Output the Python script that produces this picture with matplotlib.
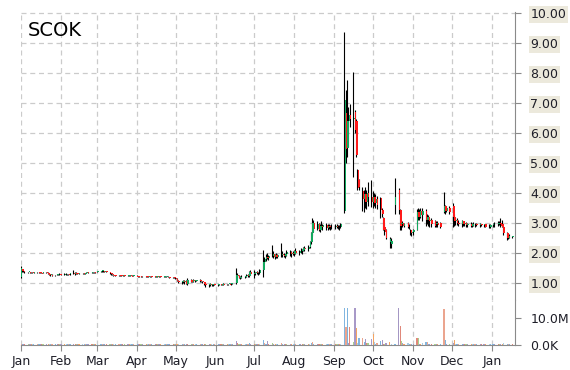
import matplotlib
matplotlib.use("Agg")
import matplotlib.pyplot as plt
import matplotlib.dates as mdates
import numpy as np
import pandas as pd

nan = float("nan")

ticker = "SCOK"
start_date = "2019-01-01"
end_date = "2020-01-17"

month_labels = ["Jan", "Feb", "Mar", "Apr", "May", "Jun", "Jul", "Aug",
                "Sep", "Oct", "Nov", "Dec", "Jan"]
price_ticks = [1, 2, 3, 4, 5, 6, 7, 8, 9, 10]
volume_ticks = [0, 10]
volume_tick_labels = ["0.0K", "10.0M"]

# daily OHLC (USD), one line per month
opens = (
    [1.20,1.45,1.40,1.38,1.36,1.37,1.35,1.36,1.34,1.35,1.36,1.35,1.34,1.33,1.35,1.34,1.30,1.27,1.27,1.25,1.26,1.29,1.30]
  + [1.29,1.28,1.31,1.29,1.30,1.29,1.33,1.31,1.34,1.32,1.31,1.32,1.33,1.31,1.33,1.35,1.34,1.35,1.36,1.35]
  + [1.37,1.38,1.40,1.41,1.38,1.39,1.36,1.32,1.29,1.27,1.26,1.25,1.26,1.25,1.24,1.25,1.24,1.24,1.25,1.24,1.23]
  + [1.24,1.23,1.22,1.23,1.22,1.23,1.22,1.21,1.22,1.23,1.22,1.21,1.22,1.21,1.22,1.20,1.21,1.20,1.21,1.20,1.19,1.20]
  + [1.18,1.14,1.08,1.03,1.06,1.02,1.08,0.97,1.10,1.04,1.09,1.06,1.08,1.10,1.05,1.06,1.02,0.95,0.92,0.95,0.93,0.94,0.96]
  + [0.94,0.95,0.96,0.94,0.97,0.95,0.96,0.97,0.96,0.98,0.99,1.28,1.22,1.18,1.21,1.19,1.22,1.26,1.23,1.35]
  + [1.30,1.33,1.35,1.32,1.34,1.42,1.70,1.80,1.88,1.84,1.90,1.95,1.86,1.92,1.88,1.93,1.98,1.92,1.90,1.95,2.02,1.95,2.00]
  + [1.98,2.05,2.00,2.08,2.05,2.10,2.15,2.12,2.20,2.35,2.65,3.00,2.80,2.95,2.78,2.90,2.85,2.92,2.82,2.90,2.85,2.88]
  + [2.86,2.90,2.88,2.85,2.88,3.40,6.67,5.50,6.40,6.60,6.45,6.70,6.40,4.77,4.43,4.05,3.80,3.95,3.70,4.00,3.85]
  + [3.70,3.85,3.65,3.80,3.83,3.43,3.17,2.85,2.75,2.35,2.30,nan,nan,3.60,4.10,3.43,2.95,3.00,2.90,3.00,2.88,2.77,2.65]
  + [2.70,2.77,3.35,3.20,3.40,3.25,3.40,3.10,3.20,3.05,3.10,3.05,2.95,3.00,nan,3.00,3.35,3.55,3.40,nan,3.50]
  + [3.55,3.20,3.05,3.10,3.00,2.95,3.05,2.95,3.00,2.92,2.97,2.90,2.98,2.95,2.97,2.93,2.96,nan,2.92,2.95,2.88,2.85]
  + [nan,2.92,2.95,2.98,3.00,3.00,2.95,2.87,2.65,2.50,2.58,nan,2.52]
)
highs = (
    [1.57,1.46,1.43,1.40,1.38,1.38,1.37,1.37,1.36,1.37,1.37,1.36,1.35,1.36,1.36,1.35,1.31,1.30,1.29,1.27,1.30,1.31,1.32]
  + [1.31,1.32,1.33,1.31,1.31,1.34,1.43,1.36,1.35,1.34,1.33,1.34,1.34,1.34,1.36,1.36,1.36,1.37,1.37,1.38]
  + [1.39,1.41,1.43,1.42,1.40,1.40,1.37,1.34,1.30,1.28,1.27,1.27,1.27,1.26,1.26,1.26,1.25,1.26,1.26,1.25,1.25]
  + [1.25,1.24,1.24,1.24,1.24,1.24,1.23,1.23,1.24,1.24,1.23,1.23,1.23,1.23,1.23,1.22,1.22,1.22,1.22,1.21,1.21,1.21]
  + [1.20,1.16,1.10,1.08,1.09,1.10,1.09,1.17,1.12,1.10,1.12,1.10,1.11,1.12,1.08,1.07,1.03,1.00,0.97,0.99,0.96,0.97,0.98]
  + [0.97,0.98,0.97,0.98,0.99,0.97,0.98,0.99,0.99,1.00,1.50,1.32,1.26,1.24,1.25,1.24,1.30,1.29,1.40,1.43]
  + [1.42,1.38,1.40,1.36,1.45,2.10,1.85,1.95,2.00,1.92,2.27,2.05,1.95,2.00,1.96,2.33,2.05,2.00,1.98,2.10,2.10,2.05,2.08]
  + [2.10,2.15,2.10,2.17,2.12,2.20,2.22,2.25,2.40,2.70,3.15,3.10,3.05,3.00,2.95,3.05,2.98,3.00,2.95,2.95,2.92,2.95]
  + [2.95,2.96,2.94,2.92,3.00,9.38,7.43,7.77,6.87,6.95,8.03,6.75,6.45,4.80,4.45,4.20,4.10,4.20,4.10,4.35,4.43]
  + [4.05,4.00,3.95,3.90,3.85,3.50,3.20,2.95,2.80,2.53,2.50,nan,nan,4.50,4.15,3.45,3.10,3.05,3.00,3.03,2.95,2.80,2.75]
  + [2.80,3.45,3.50,3.45,3.50,3.50,3.45,3.30,3.25,3.15,3.15,3.10,3.05,3.05,nan,3.02,4.03,3.60,3.55,nan,3.55]
  + [3.67,3.30,3.20,3.15,3.10,3.10,3.08,3.05,3.03,3.00,3.02,3.00,3.02,3.00,3.00,3.00,2.98,nan,2.98,2.98,2.95,2.95]
  + [nan,3.00,3.02,3.05,3.05,3.17,3.10,2.90,2.70,2.62,2.62,nan,2.56]
)
lows = (
    [1.17,1.36,1.35,1.33,1.34,1.34,1.33,1.34,1.33,1.33,1.34,1.33,1.32,1.32,1.33,1.31,1.25,1.24,1.22,1.22,1.25,1.27,1.28]
  + [1.26,1.27,1.28,1.27,1.28,1.28,1.29,1.28,1.30,1.30,1.30,1.31,1.30,1.30,1.32,1.33,1.33,1.34,1.34,1.34]
  + [1.35,1.36,1.38,1.37,1.36,1.35,1.31,1.28,1.26,1.24,1.24,1.23,1.24,1.23,1.23,1.23,1.22,1.23,1.23,1.22,1.22]
  + [1.22,1.21,1.21,1.21,1.21,1.21,1.20,1.20,1.21,1.21,1.20,1.20,1.20,1.20,1.19,1.19,1.19,1.19,1.19,1.18,1.18,1.17]
  + [1.12,1.05,1.00,0.98,1.00,0.98,0.95,0.93,1.02,1.02,1.04,1.03,1.05,1.04,1.02,1.00,0.92,0.85,0.88,0.90,0.89,0.90,0.92]
  + [0.90,0.92,0.92,0.92,0.93,0.93,0.94,0.95,0.94,0.95,0.98,1.20,1.15,1.14,1.17,1.16,1.20,1.21,1.20,1.28]
  + [1.18,1.28,1.30,1.28,1.30,1.20,1.65,1.72,1.80,1.75,1.85,1.82,1.80,1.84,1.82,1.85,1.88,1.85,1.83,1.90,1.90,1.88,1.92]
  + [1.90,1.95,1.92,2.00,1.98,2.05,2.08,2.08,2.15,2.30,2.55,2.70,2.75,2.72,2.70,2.80,2.76,2.78,2.78,2.80,2.78,2.80]
  + [2.80,2.82,2.80,2.78,2.82,3.34,5.00,5.20,5.53,6.20,4.53,6.00,5.20,4.10,4.10,3.40,3.37,3.50,3.45,3.55,3.53]
  + [3.50,3.55,3.50,3.45,3.17,3.20,2.75,2.60,2.45,2.15,2.17,nan,nan,3.30,3.30,2.77,2.75,2.85,2.85,2.83,2.80,2.60,2.58]
  + [2.60,2.75,3.10,3.10,3.15,3.05,2.90,2.95,2.90,2.85,2.85,2.85,2.85,2.88,nan,2.83,3.33,3.30,3.35,nan,3.30]
  + [2.87,2.90,2.92,2.93,2.90,2.88,2.90,2.90,2.88,2.87,2.85,2.86,2.90,2.88,2.90,2.88,2.90,nan,2.86,2.85,2.82,2.82]
  + [nan,2.88,2.88,2.90,2.92,2.85,2.85,2.60,2.43,2.45,2.50,nan,2.50]
)
closes = (
    [1.50,1.40,1.37,1.36,1.37,1.35,1.36,1.34,1.35,1.36,1.35,1.34,1.33,1.35,1.34,1.32,1.27,1.28,1.25,1.26,1.29,1.30,1.29]
  + [1.28,1.31,1.29,1.30,1.29,1.33,1.31,1.34,1.32,1.31,1.32,1.33,1.31,1.33,1.35,1.34,1.35,1.36,1.35,1.37]
  + [1.38,1.40,1.41,1.38,1.39,1.36,1.32,1.29,1.27,1.26,1.25,1.26,1.25,1.24,1.25,1.24,1.24,1.25,1.24,1.23,1.24]
  + [1.23,1.22,1.23,1.22,1.23,1.22,1.21,1.22,1.23,1.22,1.21,1.22,1.21,1.22,1.20,1.21,1.20,1.21,1.20,1.19,1.20,1.18]
  + [1.14,1.08,1.03,1.06,1.02,1.08,0.97,1.10,1.04,1.09,1.06,1.08,1.10,1.05,1.06,1.02,0.95,0.92,0.95,0.93,0.94,0.96,0.94]
  + [0.95,0.96,0.94,0.97,0.95,0.96,0.97,0.96,0.98,0.97,1.28,1.22,1.18,1.21,1.19,1.22,1.26,1.23,1.35,1.30]
  + [1.33,1.35,1.32,1.34,1.42,1.70,1.80,1.88,1.84,1.90,1.95,1.86,1.92,1.88,1.93,1.98,1.92,1.90,1.95,2.02,1.95,2.00,1.98]
  + [2.05,2.00,2.08,2.05,2.10,2.15,2.12,2.20,2.35,2.65,3.00,2.80,2.95,2.78,2.90,2.85,2.92,2.82,2.90,2.85,2.88,2.86]
  + [2.90,2.88,2.85,2.88,2.95,7.10,5.45,6.40,6.60,6.45,6.50,6.10,5.25,4.15,4.20,3.80,3.95,3.70,4.00,3.85,3.70]
  + [3.85,3.65,3.80,3.60,3.43,3.30,2.77,2.70,2.50,2.45,2.40,nan,nan,3.85,3.43,2.90,3.00,2.90,2.95,2.88,2.85,2.65,2.70]
  + [2.75,3.35,3.20,3.40,3.25,3.40,3.10,3.20,3.05,3.10,2.95,2.90,3.00,2.92,nan,2.85,3.55,3.40,3.50,nan,3.35]
  + [3.20,3.05,3.10,3.00,2.95,3.05,2.95,3.00,2.92,2.97,2.90,2.98,2.95,2.97,2.93,2.96,2.92,nan,2.95,2.88,2.85,2.92]
  + [nan,2.95,2.98,3.00,2.96,2.90,2.88,2.65,2.50,2.58,2.55,nan,2.55]
)
# daily volume, millions of shares
volumes = (
    [0.5,0.4,0.3,0.3,0.4,0.3,0.2,0.3,0.4,0.3,0.3,0.2,0.3,0.3,0.4,0.3,0.2,0.3,0.4,0.3,0.2,0.3,0.3]
  + [0.3,0.2,0.3,0.4,0.3,0.3,0.5,0.3,0.2,0.3,0.3,0.2,0.3,0.4,0.3,0.2,0.3,0.3,0.2,0.3]
  + [0.3,0.4,0.5,0.3,0.3,0.2,0.4,0.3,0.3,0.2,0.3,0.2,0.3,0.2,0.3,0.2,0.2,0.3,0.2,0.3,0.2]
  + [0.2,0.3,0.2,0.2,0.3,0.2,0.2,0.3,0.2,0.2,0.3,0.2,0.2,0.3,0.2,0.2,0.3,0.2,0.2,0.3,0.2,0.2]
  + [0.3,0.4,0.3,0.3,0.2,0.3,0.4,0.5,0.3,0.2,0.3,0.3,0.2,0.3,0.3,0.2,0.4,0.3,0.2,0.3,0.2,0.3,0.2]
  + [0.2,0.3,0.2,0.2,0.3,0.2,0.3,0.2,0.2,0.3,1.5,0.6,0.4,0.3,0.4,0.3,0.5,0.3,0.6,0.4]
  + [0.4,0.3,0.3,0.2,0.4,1.9,0.6,0.5,1.5,0.5,0.9,0.4,0.5,0.4,0.3,0.9,0.4,0.3,0.4,0.5,0.4,0.3,0.4]
  + [0.4,0.3,0.4,0.3,0.3,0.4,0.3,0.4,0.5,0.6,1.2,0.5,0.4,0.3,0.4,0.3,0.4,0.3,0.3,0.4,0.3,0.3]
  + [0.3,0.3,0.2,0.3,0.5,13.6,6.8,13.6,0.6,6.8,1.2,13.6,6.2,0.8,2.5,2.5,1.2,2.1,0.6,0.6,2.1]
  + [3.9,1.2,0.5,0.6,1.5,1.85,0.5,0.4,0.6,1.2,0.5,0.0,0.0,0.4,13.6,7.0,1.5,0.9,0.5,0.9,0.4,0.5,0.4]
  + [0.4,2.5,2.5,0.5,0.5,0.9,1.2,1.2,0.4,0.5,0.4,0.3,0.4,0.3,0.0,0.4,13.2,1.85,0.5,0.0,0.4]
  + [0.6,1.85,0.5,0.4,0.3,0.4,0.3,0.3,0.4,0.3,0.3,0.4,0.3,0.3,0.4,0.3,0.2,0.0,0.3,0.3,0.2,0.3]
  + [0.0,0.3,0.3,0.4,0.3,0.5,0.4,0.6,0.5,0.4,0.3,0.0,0.3]
)

# ---------------------------------------------------------------
dates = pd.bdate_range(start_date, end_date)
x = mdates.date2num(dates.to_pydatetime())
o = np.array(opens, float)
h = np.array(highs, float)
l = np.array(lows, float)
c = np.array(closes, float)
v = np.array(volumes, float)
n = min(len(x), len(o), len(h), len(l), len(c), len(v))
x, o, h, l, c, v = x[:n], o[:n], h[:n], l[:n], c[:n], v[:n]

W, H = 570, 370
L, R = 21, 515
fig = plt.figure(figsize=(W / 100, H / 100), dpi=100)
fig.patch.set_facecolor("white")
ax = fig.add_axes([L / W, (H - 300) / H, (R - L) / W, (300 - 12) / H])
axv = fig.add_axes([L / W, (H - 345) / H, (R - L) / W, 45 / H], sharex=ax)

GRID = "#cbcbcb"
SPINE = "#8a8a8a"
TXT = "#1e1e28"
UP = "#13a85e"
DOWN = "#ff1a1a"

valid = ~np.isnan(c)
xv, ov, hv, lv, cv = x[valid], o[valid], h[valid], l[valid], c[valid]
body = cv - ov
body = np.where(np.abs(body) < 0.025, np.where(body >= 0, 0.025, -0.025), body)
cols = np.where(cv >= ov, UP, DOWN)
ax.vlines(xv - 0.3, lv, hv, colors="black", linewidth=0.8, zorder=3)
ax.bar(xv + 0.55, body, bottom=ov, width=1.1, color=cols, linewidth=0, zorder=4)

palette = ["#eba58f", "#7db4de", "#a497c4", "#e0887a", "#a8d08d",
           "#a899c8", "#f4a463", "#a9cce3", "#82b6e0"]
vcols = [palette[i % len(palette)] for i in range(n)]
axv.bar(x, v, width=0.9, color=vcols, linewidth=0, zorder=3)

x0 = mdates.date2num(pd.Timestamp("2019-01-01").to_pydatetime())
x1 = mdates.date2num(pd.Timestamp("2020-01-19").to_pydatetime())
ax.set_xlim(x0, x1)
ax.set_ylim(0.433, 10.033)
axv.set_ylim(0, 45 / 2.7)

month_starts = pd.date_range("2019-01-01", "2020-01-01", freq="MS")
mx = mdates.date2num(month_starts.to_pydatetime())

for a in (ax, axv):
    a.set_xticks(mx)
    a.grid(True, axis="x", color=GRID, linestyle=(0, (4, 3)), linewidth=0.9, zorder=0)
    a.set_axisbelow(True)
    for s in ("top", "left"):
        a.spines[s].set_visible(False)
    a.spines["right"].set_color(SPINE)
    a.yaxis.tick_right()

ax.grid(True, axis="y", color=GRID, linestyle=(0, (4, 3)), linewidth=0.9, zorder=0)
ax.spines["bottom"].set_visible(False)
ax.tick_params(axis="x", bottom=False, labelbottom=False)
ax.set_yticks(price_ticks)
ax.set_yticklabels([f"{t:.2f}" for t in price_ticks])
ax.tick_params(axis="y", direction="out", length=4, color=SPINE, labelsize=9,
               labelcolor=TXT, pad=7)
for t in ax.get_yticklabels():
    t.set_bbox(dict(facecolor="#ece9dc", edgecolor="none", pad=1.3))

axv.spines["bottom"].set_color(SPINE)
axv.set_xticklabels(month_labels)
axv.tick_params(axis="x", direction="out", length=4, color=SPINE, labelsize=9,
                labelcolor=TXT, pad=3)
axv.set_yticks(volume_ticks)
axv.set_yticklabels(volume_tick_labels)
axv.tick_params(axis="y", direction="out", length=4, color=SPINE, labelsize=9,
                labelcolor=TXT, pad=7)

fig.text(28 / W, 1 - 36.5 / H, ticker, fontsize=14, color="black",
         ha="left", va="baseline")

fig.savefig("out.png", dpi=100)
